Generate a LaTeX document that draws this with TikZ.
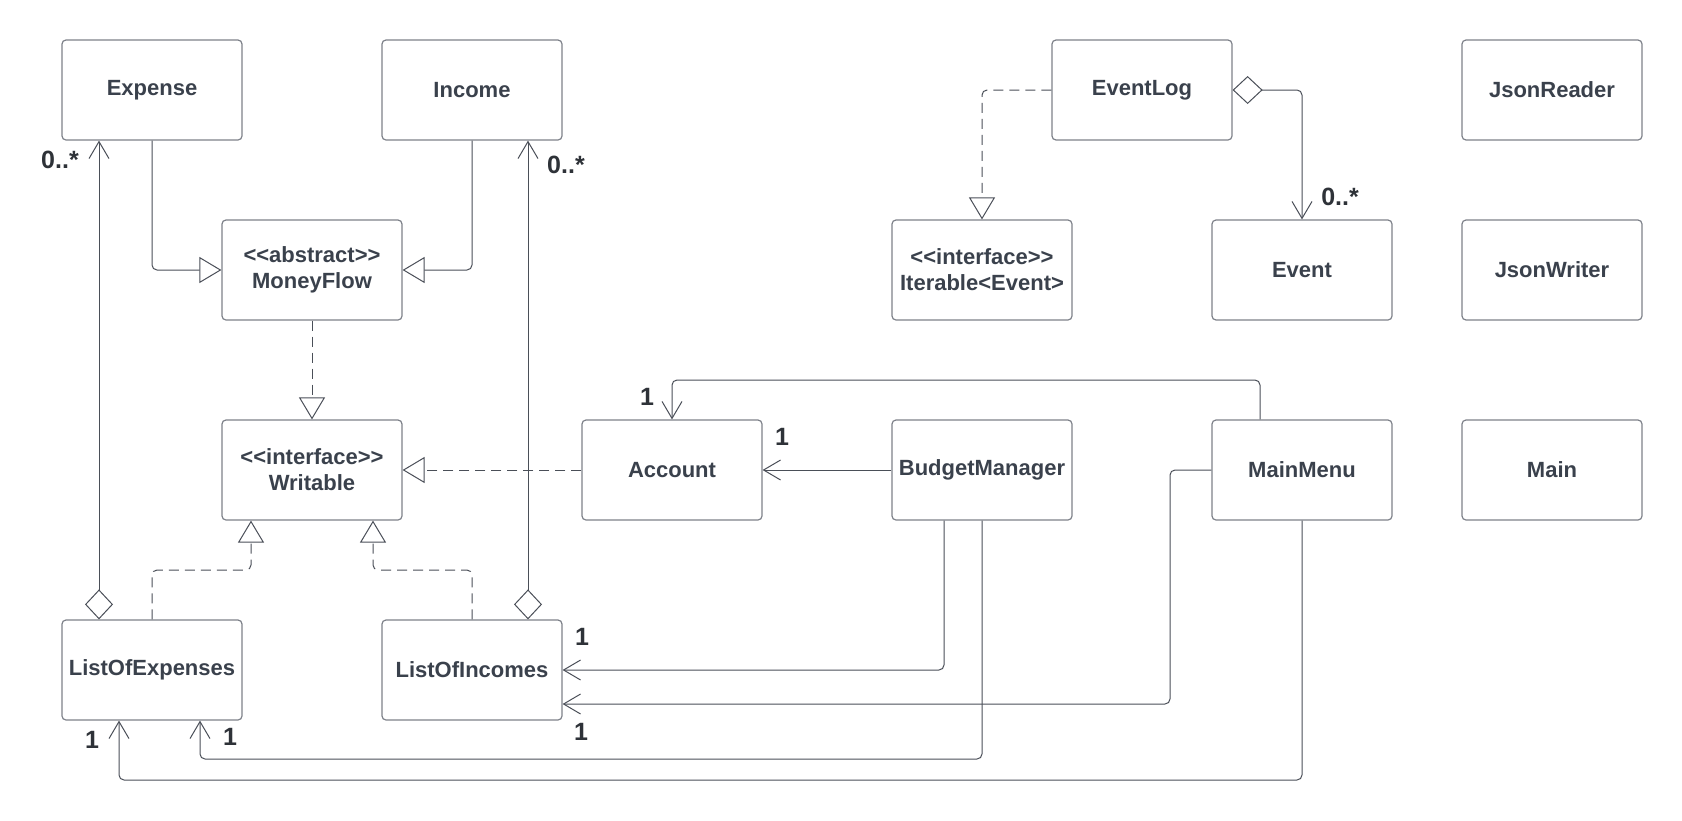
\documentclass[tikz,border=0pt]{standalone}
\usepackage{fontspec}
\setmainfont{Liberation Sans}
\usetikzlibrary{arrows.meta}
\definecolor{txt}{HTML}{3A414C}
\definecolor{bord}{HTML}{7E828A}
\definecolor{conn}{HTML}{4A4F58}
\definecolor{lbl}{HTML}{2E3238}
\newcommand{\dlt}{<\kern0pt<}
\newcommand{\dgt}{>\kern0pt>}
\begin{document}
\begin{tikzpicture}[x=1pt,y=-1pt,
  cls/.style={draw=bord, line width=1.2pt, rounded corners=4pt, minimum width=180pt,
    minimum height=100pt, inner sep=0pt, align=center, text=txt,
    font=\fontsize{22}{26}\selectfont\bfseries},
  conn/.style={draw=conn, line width=1pt, rounded corners=5pt},
  gen/.style={conn, -{Triangle[open, length=22pt, width=26pt]}},
  real/.style={gen, dash pattern=on 10pt off 6pt},
  assoc/.style={conn, -{Straight Barb[length=17pt, width=20pt]}},
  aggr/.style={conn, {Diamond[open, length=30pt, width=28pt]}-{Straight Barb[length=17pt, width=20pt]}},
  lab/.style={text=lbl, font=\fontsize{25}{28}\selectfont\bfseries, inner sep=0pt}]
\useasboundingbox (0,0) rectangle (1682,820);
\fill[white] (0,0) rectangle (1682,820);

% classes
\node[cls] (expense)    at (152,90)   {Expense};
\node[cls] (income)     at (472,90)   {Income};
\node[cls] (moneyflow)  at (312,270)  {\dlt abstract\dgt\\MoneyFlow};
\node[cls] (writable)   at (312,470)  {\dlt interface\dgt\\Writable};
\node[cls] (loe)        at (152,670)  {ListOfExpenses};
\node[cls] (loi)        at (472,670)  {ListOfIncomes};
\node[cls] (account)    at (672,470)  {Account};
\node[cls] (budget)     at (982,470)  {BudgetManager};
\node[cls] (mainmenu)   at (1302,470) {MainMenu};
\node[cls] (main)       at (1552,470) {Main};
\node[cls] (eventlog)   at (1142,90)  {EventLog};
\node[cls] (iterable)   at (982,270)  {\dlt interface\dgt\\Iterable<Event>};
\node[cls] (event)      at (1302,270) {Event};
\node[cls] (jsonreader) at (1552,90)  {JsonReader};
\node[cls] (jsonwriter) at (1552,270) {JsonWriter};

% helper coordinates
\coordinate (c6)  at (251,570);
\coordinate (c7)  at (373,570);
\coordinate (c10) at (1260,380);
\coordinate (c12) at (1170,704);
\coordinate (c13) at (200,759);
\coordinate (c14) at (119,780);

% generalization / realization
\draw[gen]  (expense.south) |- (moneyflow.west);
\draw[gen]  (income.south) |- (moneyflow.east);
\draw[real] (moneyflow.south) -- (writable.north);
\draw[real] (loe.north) |- (c6) -- (c6 |- writable.south);
\draw[real] (loi.north) |- (c7) -- (c7 |- writable.south);
\draw[real] (account.west) -- (writable.east);
\draw[real] (eventlog.west) -| (iterable.north);

% aggregations
\draw[aggr] ([xshift=-53pt]loe.north) -- ([xshift=-53pt]expense.south);
\draw[aggr] ([xshift=56pt]loi.north) -- ([xshift=56pt]income.south);
\draw[aggr] (eventlog.east) -| (event.north);

% associations
\draw[assoc] (budget.west) -- (account.east);
\draw[assoc] (mainmenu.north -| c10) |- (c10 -| account.north) -- (account.north);
\draw[assoc] ([xshift=-38pt]budget.south) |- (loi.east);
\draw[assoc] (mainmenu.west) -| (c12) -- (c12 -| loi.east);
\draw[assoc] (budget.south) |- (c13) -- (c13 |- loe.south);
\draw[assoc] (mainmenu.south) |- (c14) -- (c14 |- loe.south);

% multiplicities
\node[lab] (m1)  at (60,160)   {0..*};
\node[lab] (m2)  at (566,165)  {0..*};
\node[lab] (m3)  at (1340,197) {0..*};
\node[lab] (m4)  at (782,437)  {1};
\node[lab] (m5)  at (647,397)  {1};
\node[lab] (m6)  at (582,637)  {1};
\node[lab] (m7)  at (581,732)  {1};
\node[lab] (m8)  at (230,737)  {1};
\node[lab] (m9)  at (92,740)   {1};
\end{tikzpicture}
\end{document}
